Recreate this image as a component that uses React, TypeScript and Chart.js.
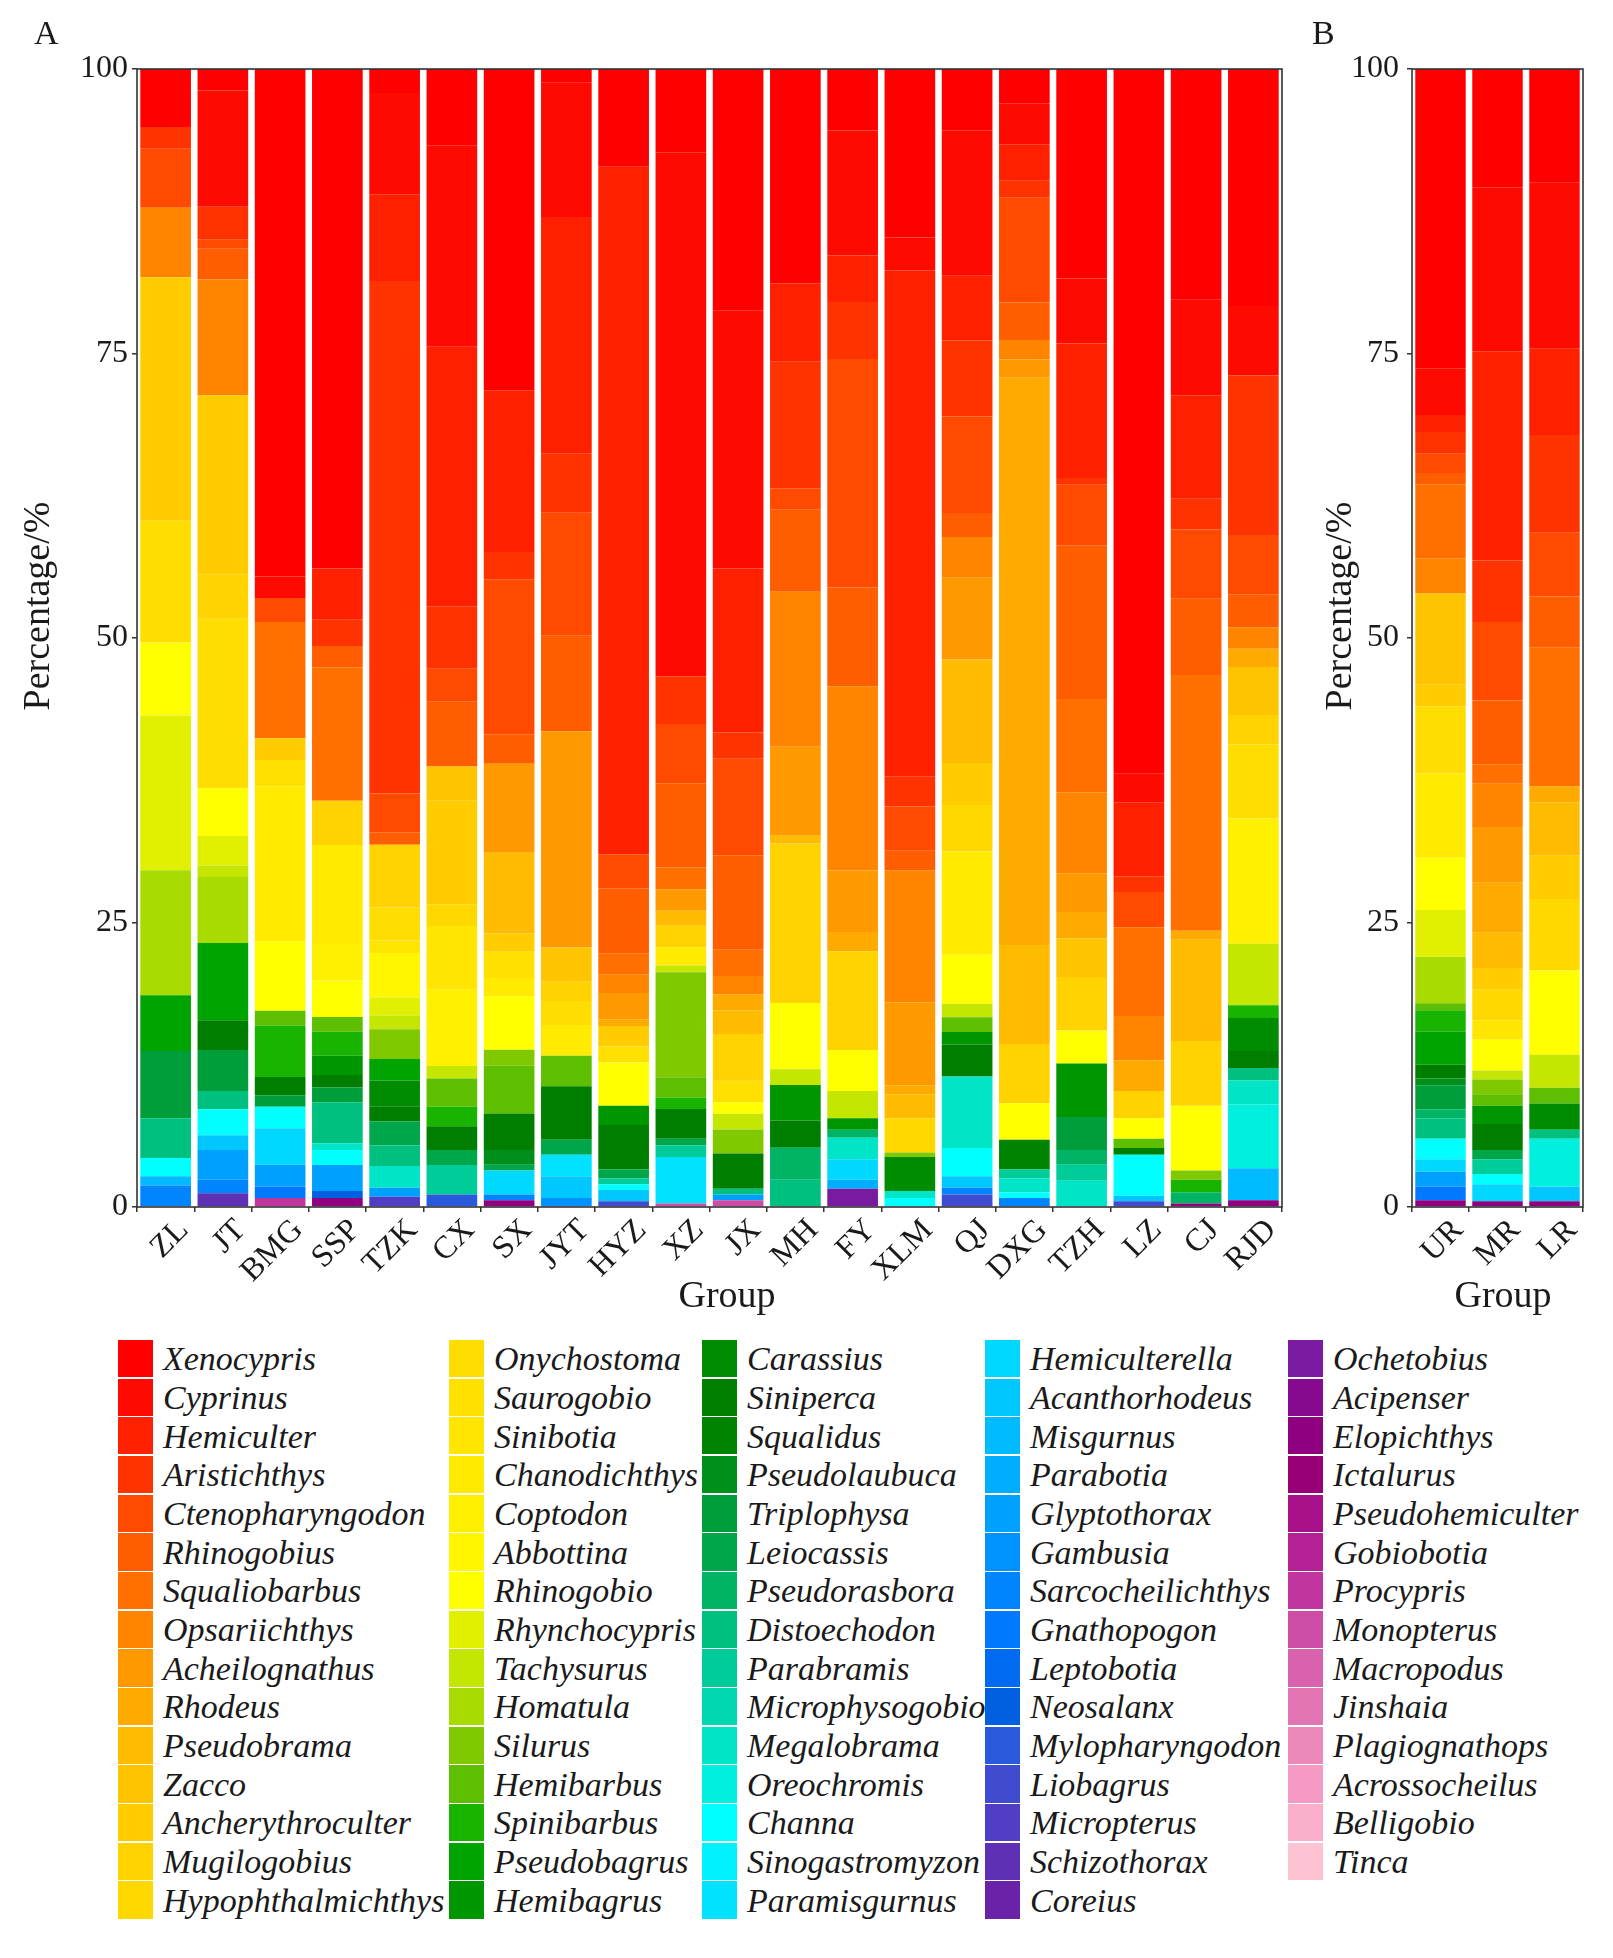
import React, { useEffect, useRef } from 'react';
import { Chart, registerables } from 'chart.js';

Chart.register(...registerables);

// ---------- categories ----------
const groupsA = ['ZL', 'JT', 'BMG', 'SSP', 'TZK', 'CX', 'SX', 'JYT', 'HYZ', 'XZ', 'JX', 'MH', 'FY', 'XLM', 'QJ', 'DXG', 'TZH', 'LZ', 'CJ', 'RJD'];
const groupsB = ['UR', 'MR', 'LR'];
const yTickValues = [0, 25, 50, 75, 100];

// ---------- genera (legend order, top of stack first) ----------
const genera = [
  'Xenocypris', 'Cyprinus', 'Hemiculter', 'Aristichthys', 'Ctenopharyngodon', 'Rhinogobius', 'Squaliobarbus', 'Opsariichthys', 'Acheilognathus', 'Rhodeus', 'Pseudobrama', 'Zacco', 'Ancherythroculter', 'Mugilogobius', 'Hypophthalmichthys',
  'Onychostoma', 'Saurogobio', 'Sinibotia', 'Chanodichthys', 'Coptodon', 'Abbottina', 'Rhinogobio', 'Rhynchocypris', 'Tachysurus', 'Homatula', 'Silurus', 'Hemibarbus', 'Spinibarbus', 'Pseudobagrus', 'Hemibagrus',
  'Carassius', 'Siniperca', 'Squalidus', 'Pseudolaubuca', 'Triplophysa', 'Leiocassis', 'Pseudorasbora', 'Distoechodon', 'Parabramis', 'Microphysogobio', 'Megalobrama', 'Oreochromis', 'Channa', 'Sinogastromyzon', 'Paramisgurnus',
  'Hemiculterella', 'Acanthorhodeus', 'Misgurnus', 'Parabotia', 'Glyptothorax', 'Gambusia', 'Sarcocheilichthys', 'Gnathopogon', 'Leptobotia', 'Neosalanx', 'Mylopharyngodon', 'Liobagrus', 'Micropterus', 'Schizothorax', 'Coreius',
  'Ochetobius', 'Acipenser', 'Elopichthys', 'Ictalurus', 'Pseudohemiculter', 'Gobiobotia', 'Procypris', 'Monopterus', 'Macropodus', 'Jinshaia', 'Plagiognathops', 'Acrossocheilus', 'Belligobio', 'Tinca',
];

const genusColors = [
  '#FF0000', '#FF0A00', '#FF2000', '#FF3300', '#FF4A00', '#FF5E00', '#FF7000', '#FF8500', '#FF9900', '#FFAA00', '#FFBB00', '#FFC400', '#FFCC00', '#FFD200', '#FFD800',
  '#FFDD00', '#FFE000', '#FFE500', '#FFEA00', '#FFF000', '#FFF600', '#FFFF00', '#E0F000', '#C4E600', '#A8DC00', '#80C800', '#5EBF00', '#19B400', '#00A400', '#009600',
  '#008C00', '#007E00', '#008300', '#008F1A', '#009E3A', '#00A64A', '#00B466', '#00C080', '#00CC99', '#00D8B2', '#00E5C8', '#00F0E0', '#00FFFF', '#00F0FF', '#00E2FF',
  '#00D8FF', '#00C8FF', '#00BBFF', '#00AEFF', '#00A0FF', '#0093FF', '#0085FF', '#0078FF', '#006AF0', '#0060E0', '#2A5ADC', '#3F4CD0', '#503EC4', '#5E30B4', '#6A22A8',
  '#7A1AA0', '#860A90', '#8E0080', '#980078', '#A8108A', '#B42096', '#C0369E', '#CC4CA6', '#D862AE', '#E276B4', '#EC88BA', '#F59AC2', '#F9AFCA', '#FCC4D2',
];

// ---------- relative abundance per site (%) ----------
const ZL = { Xenocypris: 5.1, Aristichthys: 1.9, Ctenopharyngodon: 5.2, Opsariichthys: 6.1, Ancherythroculter: 21.4, Onychostoma: 10.7, Rhinogobio: 6.4, Rhynchocypris: 13.6, Homatula: 11.0, Pseudobagrus: 4.9, Triplophysa: 5.9, Distoechodon: 3.5, Channa: 1.6, Misgurnus: 0.8, Sarcocheilichthys: 1.9 };
const JT = { Xenocypris: 1.9, Cyprinus: 10.2, Aristichthys: 2.9, Ctenopharyngodon: 0.8, Rhinogobius: 2.7, Opsariichthys: 10.2, Ancherythroculter: 15.7, Mugilogobius: 3.9, Onychostoma: 14.9, Rhinogobio: 4.2, Rhynchocypris: 2.6, Tachysurus: 1.0, Homatula: 5.8, Pseudobagrus: 6.8, Siniperca: 2.6, Triplophysa: 3.6, Distoechodon: 1.6, Channa: 2.3, Acanthorhodeus: 1.3, Glyptothorax: 2.6, Sarcocheilichthys: 1.2, Schizothorax: 1.2 };
const BMG = { Xenocypris: 44.5, Cyprinus: 1.9, Ctenopharyngodon: 2.1, Squaliobarbus: 10.2, Ancherythroculter: 1.9, Saurogobio: 2.3, Chanodichthys: 13.6, Rhinogobio: 6.1, Hemibarbus: 1.3, Spinibarbus: 4.5, Siniperca: 1.6, Triplophysa: 1.0, Channa: 1.9, Hemiculterella: 3.2, Glyptothorax: 1.9, Gnathopogon: 1.0, Procypris: 0.8 };
const SSP = { Xenocypris: 43.9, Hemiculter: 4.5, Aristichthys: 2.3, Rhinogobius: 1.9, Squaliobarbus: 11.7, Mugilogobius: 3.9, Chanodichthys: 8.7, Coptodon: 3.2, Rhinogobio: 3.2, Hemibarbus: 1.3, Spinibarbus: 2.1, Hemibagrus: 1.7, Siniperca: 1.1, Triplophysa: 1.3, Distoechodon: 3.6, Megalobrama: 0.6, Channa: 1.3, Glyptothorax: 2.3, Neosalanx: 0.6, Elopichthys: 0.8 };
const TZK = { Xenocypris: 2.1, Cyprinus: 8.9, Hemiculter: 7.6, Aristichthys: 45.0, Ctenopharyngodon: 3.4, Rhinogobius: 1.1, Mugilogobius: 5.5, Onychostoma: 2.9, Sinibotia: 1.1, Abbottina: 3.9, Rhynchocypris: 1.6, Tachysurus: 1.2, Silurus: 2.6, Pseudobagrus: 1.9, Carassius: 2.3, Siniperca: 1.3, Leiocassis: 2.1, Distoechodon: 1.8, Megalobrama: 1.9, Glyptothorax: 0.8, Micropterus: 0.9 };
const CX = { Xenocypris: 6.7, Cyprinus: 17.7, Hemiculter: 22.8, Aristichthys: 5.5, Ctenopharyngodon: 2.9, Rhinogobius: 5.7, Zacco: 3.0, Ancherythroculter: 9.1, Hypophthalmichthys: 1.9, Sinibotia: 5.6, Coptodon: 6.7, Tachysurus: 1.1, Hemibarbus: 2.5, Spinibarbus: 1.7, Siniperca: 2.1, Leiocassis: 1.3, Parabramis: 2.6, Mylopharyngodon: 1.1 };
const SX = { Xenocypris: 28.2, Hemiculter: 14.2, Aristichthys: 2.4, Ctenopharyngodon: 13.6, Rhinogobius: 2.6, Acheilognathus: 7.8, Pseudobrama: 7.1, Ancherythroculter: 1.6, Saurogobio: 2.3, Chanodichthys: 1.6, Rhinogobio: 4.7, Silurus: 1.4, Hemibarbus: 4.2, Siniperca: 3.2, Pseudolaubuca: 1.3, Leiocassis: 0.5, Hemiculterella: 2.1, Sarcocheilichthys: 0.5, Elopichthys: 0.6 };
const JYT = { Xenocypris: 1.2, Cyprinus: 11.8, Hemiculter: 20.8, Aristichthys: 5.2, Ctenopharyngodon: 10.8, Rhinogobius: 8.4, Acheilognathus: 19.0, Zacco: 3.0, Mugilogobius: 1.7, Onychostoma: 2.1, Chanodichthys: 2.7, Hemibarbus: 2.7, Siniperca: 4.7, Leiocassis: 1.3, Paramisgurnus: 1.9, Acanthorhodeus: 1.9, Gambusia: 0.8 };
const HYZ = { Xenocypris: 8.6, Hemiculter: 60.4, Ctenopharyngodon: 3.0, Rhinogobius: 5.7, Squaliobarbus: 1.9, Opsariichthys: 1.6, Acheilognathus: 2.3, Rhodeus: 0.6, Ancherythroculter: 1.8, Saurogobio: 1.4, Rhinogobio: 3.8, Hemibagrus: 1.7, Siniperca: 3.9, Leiocassis: 0.8, Parabramis: 0.5, Channa: 0.5, Acanthorhodeus: 1.0, Liobagrus: 0.5 };
const XZ = { Xenocypris: 7.3, Cyprinus: 46.0, Aristichthys: 4.2, Ctenopharyngodon: 5.2, Rhinogobius: 7.4, Squaliobarbus: 1.9, Acheilognathus: 1.9, Pseudobrama: 1.3, Mugilogobius: 1.9, Chanodichthys: 1.6, Tachysurus: 0.6, Silurus: 9.2, Hemibarbus: 1.8, Spinibarbus: 1.0, Siniperca: 2.6, Leiocassis: 0.6, Parabramis: 1.0, Paramisgurnus: 4.1, Monopterus: 0.3 };
const JX = { Xenocypris: 21.2, Cyprinus: 22.7, Hemiculter: 14.4, Aristichthys: 2.3, Ctenopharyngodon: 8.5, Rhinogobius: 8.3, Squaliobarbus: 2.3, Opsariichthys: 1.6, Rhodeus: 1.4, Pseudobrama: 2.1, Mugilogobius: 4.1, Saurogobio: 1.9, Rhinogobio: 1.0, Tachysurus: 1.4, Silurus: 2.1, Siniperca: 3.1, Distoechodon: 0.5, Glyptothorax: 0.5, Monopterus: 0.6 };
const MH = { Xenocypris: 18.8, Hemiculter: 6.9, Aristichthys: 11.1, Ctenopharyngodon: 1.9, Rhinogobius: 7.2, Opsariichthys: 13.6, Acheilognathus: 7.8, Pseudobrama: 0.7, Mugilogobius: 14.0, Rhinogobio: 5.8, Tachysurus: 1.4, Hemibagrus: 3.1, Siniperca: 2.4, Pseudorasbora: 2.8, Distoechodon: 2.4 };
const FY = { Xenocypris: 5.4, Cyprinus: 11.0, Hemiculter: 4.1, Aristichthys: 5.0, Ctenopharyngodon: 20.1, Rhinogobius: 8.7, Opsariichthys: 16.2, Acheilognathus: 5.4, Rhodeus: 1.7, Mugilogobius: 8.7, Rhinogobio: 3.6, Tachysurus: 2.4, Hemibagrus: 1.0, Pseudorasbora: 0.7, Megalobrama: 1.9, Hemiculterella: 1.8, Parabotia: 0.8, Ochetobius: 1.6 };
const XLM = { Xenocypris: 14.8, Cyprinus: 2.9, Hemiculter: 44.5, Aristichthys: 2.6, Ctenopharyngodon: 3.9, Rhinogobius: 1.7, Opsariichthys: 11.6, Acheilognathus: 7.3, Rhodeus: 0.8, Pseudobrama: 2.1, Hypophthalmichthys: 3.0, Silurus: 0.4, Carassius: 3.0, Megalobrama: 0.6, Channa: 0.8 };
const QJ = { Xenocypris: 5.4, Cyprinus: 12.8, Hemiculter: 5.7, Aristichthys: 6.7, Ctenopharyngodon: 8.5, Rhinogobius: 2.1, Opsariichthys: 3.6, Acheilognathus: 7.2, Pseudobrama: 9.1, Ancherythroculter: 3.7, Hypophthalmichthys: 4.1, Chanodichthys: 9.1, Rhinogobio: 4.3, Tachysurus: 1.2, Hemibarbus: 1.3, Hemibagrus: 1.1, Siniperca: 2.8, Megalobrama: 6.3, Channa: 2.5, Acanthorhodeus: 1.0, Sarcocheilichthys: 0.6, Liobagrus: 1.1 };
const DXG = { Xenocypris: 3.0, Cyprinus: 3.6, Hemiculter: 3.2, Aristichthys: 1.5, Ctenopharyngodon: 9.2, Rhinogobius: 3.3, Opsariichthys: 1.7, Acheilognathus: 1.6, Rhodeus: 49.8, Pseudobrama: 8.7, Mugilogobius: 5.2, Rhinogobio: 3.2, Squalidus: 2.6, Parabramis: 0.8, Megalobrama: 1.2, Channa: 0.5, Sarcocheilichthys: 0.8 };
const TZH = { Xenocypris: 18.4, Cyprinus: 5.7, Hemiculter: 11.8, Aristichthys: 0.6, Ctenopharyngodon: 5.3, Rhinogobius: 13.5, Squaliobarbus: 8.2, Opsariichthys: 7.1, Acheilognathus: 3.4, Rhodeus: 2.3, Zacco: 3.4, Mugilogobius: 4.7, Rhinogobio: 2.9, Hemibagrus: 4.7, Triplophysa: 2.9, Pseudorasbora: 1.3, Parabramis: 1.4, Megalobrama: 2.3 };
const LZ = { Xenocypris: 62.0, Cyprinus: 2.5, Hemiculter: 6.5, Aristichthys: 1.4, Ctenopharyngodon: 3.1, Squaliobarbus: 7.8, Opsariichthys: 3.9, Rhodeus: 2.7, Mugilogobius: 2.4, Rhinogobio: 1.8, Hemibarbus: 0.8, Siniperca: 0.6, Channa: 3.6, Acanthorhodeus: 0.5, Liobagrus: 0.5 };
const CJ = { Xenocypris: 20.3, Cyprinus: 8.4, Hemiculter: 9.1, Aristichthys: 2.7, Ctenopharyngodon: 6.1, Rhinogobius: 6.7, Squaliobarbus: 22.5, Rhodeus: 0.8, Pseudobrama: 8.9, Mugilogobius: 5.7, Rhinogobio: 5.7, Silurus: 0.8, Spinibarbus: 1.1, Pseudorasbora: 1.0, Elopichthys: 0.3 };
const RJD = { Xenocypris: 20.8, Cyprinus: 6.1, Aristichthys: 14.0, Ctenopharyngodon: 5.2, Rhinogobius: 2.9, Opsariichthys: 1.9, Rhodeus: 1.6, Zacco: 4.2, Mugilogobius: 2.6, Onychostoma: 6.5, Coptodon: 11.0, Tachysurus: 5.4, Spinibarbus: 1.1, Carassius: 2.9, Siniperca: 1.5, Distoechodon: 1.1, Megalobrama: 2.1, Oreochromis: 5.6, Misgurnus: 2.8, Elopichthys: 0.6 };

const UR = { Xenocypris: 26.3, Cyprinus: 4.1, Hemiculter: 1.5, Aristichthys: 1.9, Ctenopharyngodon: 1.7, Rhinogobius: 1.0, Squaliobarbus: 6.5, Opsariichthys: 3.1, Zacco: 8.0, Ancherythroculter: 1.9, Onychostoma: 5.9, Chanodichthys: 7.4, Rhinogobio: 4.6, Rhynchocypris: 4.1, Homatula: 4.1, Hemibarbus: 0.6, Spinibarbus: 1.9, Pseudobagrus: 2.9, Siniperca: 1.2, Pseudolaubuca: 0.6, Triplophysa: 2.1, Pseudorasbora: 0.8, Distoechodon: 1.8, Channa: 1.8, Hemiculterella: 1.1, Glyptothorax: 1.3, Gnathopogon: 1.2, Elopichthys: 0.6 };
const MR = { Xenocypris: 10.4, Cyprinus: 14.4, Hemiculter: 18.4, Aristichthys: 5.4, Ctenopharyngodon: 6.9, Rhinogobius: 5.6, Squaliobarbus: 1.7, Opsariichthys: 3.8, Acheilognathus: 4.9, Rhodeus: 4.4, Pseudobrama: 3.1, Ancherythroculter: 1.9, Hypophthalmichthys: 2.7, Sinibotia: 1.7, Rhinogobio: 2.7, Tachysurus: 0.8, Silurus: 1.3, Hemibarbus: 1.0, Hemibagrus: 1.6, Siniperca: 2.3, Leiocassis: 0.8, Parabramis: 1.3, Channa: 0.9, Hemiculterella: 1.5, Elopichthys: 0.5 };
const LR = { Xenocypris: 10.0, Cyprinus: 14.6, Hemiculter: 7.6, Aristichthys: 8.6, Ctenopharyngodon: 5.6, Rhinogobius: 4.5, Squaliobarbus: 12.2, Rhodeus: 1.4, Pseudobrama: 4.7, Ancherythroculter: 3.8, Hypophthalmichthys: 6.3, Rhinogobio: 7.4, Tachysurus: 2.9, Hemibarbus: 1.4, Carassius: 2.3, Distoechodon: 0.8, Oreochromis: 4.2, Acanthorhodeus: 1.3, Elopichthys: 0.5 };

const sitesA: Record<string, number>[] = [ZL, JT, BMG, SSP, TZK, CX, SX, JYT, HYZ, XZ, JX, MH, FY, XLM, QJ, DXG, TZH, LZ, CJ, RJD];
const sitesB: Record<string, number>[] = [UR, MR, LR];

// ---------- helpers ----------
const FONT = "'Liberation Serif', 'Times New Roman', serif";
const TEXT = '#1a1a1a';

function buildDatasets(sites: Record<string, number>[]) {
  const totals = sites.map((s) => Object.values(s).reduce((a, b) => a + b, 0));
  // Chart.js stacks the first dataset at the bottom, so reverse legend order
  return genera
    .map((g, i) => ({
      label: g,
      data: sites.map((s, k) => ((s[g] ?? 0) / totals[k]) * 100),
      backgroundColor: genusColors[i],
      borderWidth: 0,
      categoryPercentage: 0.885,
      barPercentage: 1.0,
    }))
    .reverse();
}

const framePlugin = {
  id: 'frame',
  afterDatasetsDraw(chart: any) {
    const { ctx, chartArea: a } = chart;
    ctx.save();
    ctx.strokeStyle = '#333';
    ctx.lineWidth = 1.6;
    ctx.strokeRect(a.left, a.top, a.right - a.left, a.bottom - a.top);
    ctx.restore();
  },
};

// axis titles drawn at explicit spots (offset from the panel centre like the reference)
const axisTitlePlugin = {
  id: 'axisTitles',
  afterDraw(chart: any) {
    const o = chart.options.plugins.axisTitles;
    if (!o) return;
    const { ctx } = chart;
    ctx.save();
    ctx.fillStyle = TEXT;
    ctx.font = `38px ${FONT}`;
    ctx.textAlign = 'center';
    ctx.textBaseline = 'middle';
    ctx.fillText(o.x, o.xPos[0], o.xPos[1]);
    ctx.translate(o.yPos[0], o.yPos[1]);
    ctx.rotate(-Math.PI / 2);
    ctx.fillText(o.y, 0, 0);
    ctx.restore();
  },
};

type PanelProps = {
  labels: string[];
  sites: Record<string, number>[];
  left: number;
  width: number;
  yAxisWidth: number;
  rightPad: number;
  yTickPad: number;
  xTitlePos: [number, number];
  yTitlePos: [number, number];
};

const CANVAS_H = 1320;

function Panel({ labels, sites, left, width, yAxisWidth, rightPad, yTickPad, xTitlePos, yTitlePos }: PanelProps) {
  const ref = useRef<HTMLCanvasElement>(null);
  useEffect(() => {
    const chart = new Chart(ref.current as HTMLCanvasElement, {
      type: 'bar',
      data: { labels, datasets: buildDatasets(sites) as any },
      options: {
        animation: false,
        responsive: false,
        maintainAspectRatio: false,
        devicePixelRatio: 1,
        layout: { padding: { top: 69, left: 0, right: rightPad, bottom: 0 } },
        plugins: {
          legend: { display: false },
          tooltip: { enabled: false },
          axisTitles: { x: 'Group', y: 'Percentage/%', xPos: xTitlePos, yPos: yTitlePos },
        } as any,
        scales: {
          x: {
            stacked: true,
            offset: true,
            grid: { display: true, drawOnChartArea: false, drawTicks: true, tickLength: 5, color: '#333', lineWidth: 1.5 },
            border: { display: false },
            ticks: {
              font: { family: FONT, size: 32, lineHeight: 1 },
              color: TEXT,
              minRotation: 45,
              maxRotation: 45,
              autoSkip: false,
              padding: 2,
              labelOffset: 18,
            },
            title: { display: false },
            afterFit: (s: any) => {
              s.height = CANVAS_H - 1207;
            },
          },
          y: {
            stacked: true,
            min: 0,
            max: 100,
            afterBuildTicks: (s: any) => {
              s.ticks = yTickValues.map((v) => ({ value: v }));
            },
            grid: { display: true, drawOnChartArea: false, drawTicks: true, tickLength: 5, color: '#333', lineWidth: 1.5 },
            border: { display: false },
            ticks: {
              font: { family: FONT, size: 32, lineHeight: 1 },
              color: TEXT,
              padding: yTickPad,
            },
            title: { display: false },
            afterFit: (s: any) => {
              s.width = yAxisWidth;
            },
          },
        },
      },
      plugins: [framePlugin, axisTitlePlugin],
    });
    return () => chart.destroy();
  }, []);
  return (
    <canvas
      ref={ref}
      width={width}
      height={CANVAS_H}
      style={{ position: 'absolute', left, top: 0, width, height: CANVAS_H }}
    />
  );
}

const legendColLeft = [118, 449, 702, 985, 1288];
const LEGEND_TOP = 1340;
const ROW_H = 38.67;

function Legend() {
  return (
    <>
      {genera.map((g, i) => {
        const col = Math.floor(i / 15);
        const row = i % 15;
        return (
          <div
            key={g}
            style={{
              position: 'absolute',
              left: legendColLeft[col],
              top: LEGEND_TOP + row * ROW_H,
              height: ROW_H,
              display: 'flex',
              alignItems: 'center',
              whiteSpace: 'nowrap',
            }}
          >
            <div style={{ width: 35, height: ROW_H - 1.5, background: genusColors[i], marginRight: 10, alignSelf: 'flex-start' }} />
            <span style={{ fontFamily: FONT, fontStyle: 'italic', fontSize: 34, color: TEXT, lineHeight: 1 }}>{g}</span>
          </div>
        );
      })}
    </>
  );
}

export default function App() {
  return (
    <div style={{ position: 'absolute', left: 0, top: 0, width: 1613, height: 1958, background: '#fff', overflow: 'hidden' }}>
      <Panel labels={groupsA} sites={sitesA} left={0} width={1310} yAxisWidth={137} rightPad={28} yTickPad={4} xTitlePos={[727, 1297]} yTitlePos={[39, 606]} />
      <Panel labels={groupsB} sites={sitesB} left={1300} width={313} yAxisWidth={112} rightPad={30} yTickPad={8} xTitlePos={[203, 1297]} yTitlePos={[41, 606]} />
      <div style={{ position: 'absolute', left: 34, top: 16, fontFamily: FONT, fontSize: 34, lineHeight: '34px', color: TEXT }}>A</div>
      <div style={{ position: 'absolute', left: 1312, top: 16, fontFamily: FONT, fontSize: 34, lineHeight: '34px', color: TEXT }}>B</div>
      <Legend />
    </div>
  );
}
